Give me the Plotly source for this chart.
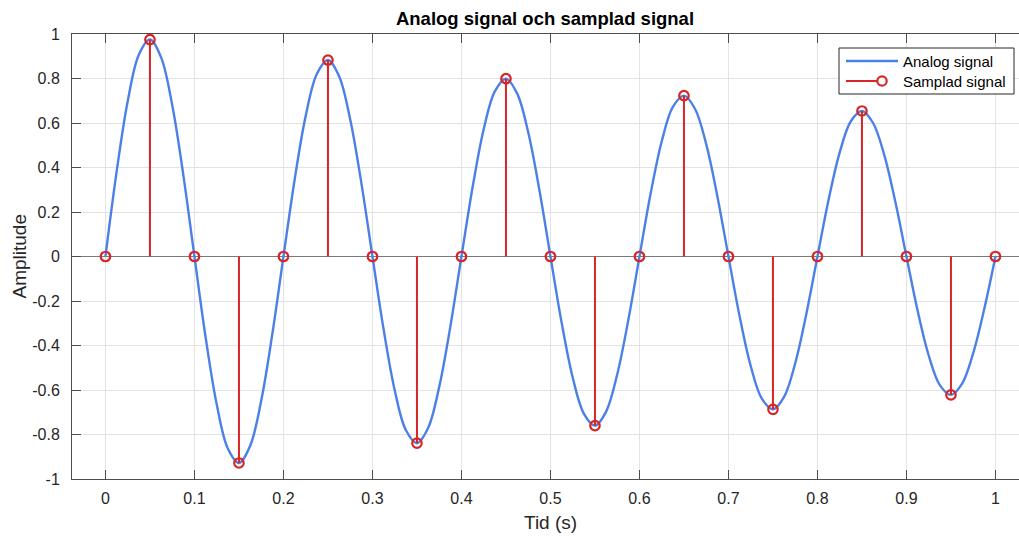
import numpy as np
import plotly.graph_objects as go

# Analog signal, read every 0.0125 s
analog_step = 0.0125
analog_values = [
    0.000, 0.380, 0.698, 0.907, 0.975, 0.895, 0.681, 0.366,
    0.000, -0.362, -0.664, -0.863, -0.928, -0.852, -0.648, -0.348,
    0.000, 0.344, 0.632, 0.820, 0.883, 0.810, 0.616, 0.331,
    0.000, -0.327, -0.601, -0.780, -0.839, -0.771, -0.586, -0.315,
    0.000, 0.311, 0.572, 0.742, 0.799, 0.733, 0.558, 0.300,
    0.000, -0.296, -0.544, -0.706, -0.760, -0.697, -0.530, -0.285,
    0.000, 0.282, 0.517, 0.672, 0.723, 0.663, 0.505, 0.271,
    0.000, -0.268, -0.492, -0.639, -0.687, -0.631, -0.480, -0.258,
    0.000, 0.255, 0.468, 0.608, 0.654, 0.600, 0.457, 0.246,
    0.000, -0.243, -0.445, -0.578, -0.622, -0.571, -0.434, -0.234,
    0.000,
]
analog_t = [round(i * analog_step, 4) for i in range(len(analog_values))]

# Sampled signal, every 0.05 s
sample_t = [round(i * 0.05, 2) for i in range(21)]
sample_values = [
    0.000, 0.975, 0.000, -0.928, 0.000, 0.883, 0.000, -0.839, 0.000, 0.799,
    0.000, -0.760, 0.000, 0.723, 0.000, -0.687, 0.000, 0.654, 0.000, -0.622,
    0.000,
]

x_ticks = [round(i * 0.1, 1) for i in range(11)]
x_ticklabels = ["0", "0.1", "0.2", "0.3", "0.4", "0.5", "0.6", "0.7", "0.8", "0.9", "1"]
y_ticks = [round(-1 + i * 0.2, 1) for i in range(11)]
y_ticklabels = ["-1", "-0.8", "-0.6", "-0.4", "-0.2", "0", "0.2", "0.4", "0.6", "0.8", "1"]

BLUE = "#4d80e6"
RED = "#d62626"
AX = "#4d4d4d"
TXT = "#262626"
FONT = "Liberation Sans, Arial, Helvetica, sans-serif"

# stem segments from the baseline to each sample
stem_x, stem_y = [], []
for t, v in zip(sample_t, sample_values):
    stem_x += [t, t, None]
    stem_y += [0, v, None]

fig = go.Figure()
fig.add_trace(go.Scatter(
    x=analog_t, y=analog_values, mode="lines", name="Analog signal",
    line=dict(color=BLUE, width=2.4, shape="spline", smoothing=1.0),
    showlegend=False, hoverinfo="skip",
))
fig.add_trace(go.Scatter(
    x=stem_x, y=stem_y, mode="lines", name="Samplad signal",
    line=dict(color=RED, width=2), showlegend=False, hoverinfo="skip",
))
fig.add_trace(go.Scatter(
    x=sample_t, y=sample_values, mode="markers", name="Samplad signal",
    marker=dict(symbol="circle-open", size=9.5, color=RED, line=dict(color=RED, width=2.2)),
    showlegend=False,
))

# plot area in pixels
L, R, T, B = 72, 0, 34, 57
W, H = 1019, 536
pw, ph = W - L - R, H - T - B


def px(x):
    return (x - L) / pw


def py(y):
    return 1 - (y - T) / ph


shapes = [
    # legend box
    dict(type="rect", xref="paper", yref="paper",
         x0=px(839), x1=px(1014), y0=py(94), y1=py(48),
         line=dict(color="#262626", width=1), fillcolor="white", layer="above"),
    dict(type="line", xref="paper", yref="paper",
         x0=px(846), x1=px(898), y0=py(61), y1=py(61),
         line=dict(color=BLUE, width=2.4), layer="above"),
    dict(type="line", xref="paper", yref="paper",
         x0=px(846), x1=px(882), y0=py(81), y1=py(81),
         line=dict(color=RED, width=2), layer="above"),
    dict(type="circle", xref="paper", yref="paper",
         xsizemode="pixel", ysizemode="pixel",
         xanchor=px(882), yanchor=py(81),
         x0=-4.7, x1=4.7, y0=-4.7, y1=4.7,
         line=dict(color=RED, width=2.2), fillcolor="white", layer="above"),
]
annotations = [
    dict(text="Analog signal", xref="paper", yref="paper", x=px(901), y=py(61),
         xanchor="left", yanchor="middle", showarrow=False,
         font=dict(family=FONT, size=15, color="#000000")),
    dict(text="Samplad signal", xref="paper", yref="paper", x=px(901), y=py(81),
         xanchor="left", yanchor="middle", showarrow=False,
         font=dict(family=FONT, size=15, color="#000000")),
    # axis labels
    dict(text="Tid (s)", xref="paper", yref="paper", x=px(550), y=py(522),
         xanchor="center", yanchor="middle", showarrow=False,
         font=dict(family=FONT, size=19, color=TXT)),
    dict(text="Amplitude", xref="paper", yref="paper", x=px(18.5), y=py(256),
         xanchor="center", yanchor="middle", showarrow=False, textangle=-90,
         font=dict(family=FONT, size=19, color=TXT)),
]

fig.update_layout(
    width=W, height=H,
    margin=dict(l=L, r=R, t=T, b=B, pad=0),
    paper_bgcolor="white", plot_bgcolor="white",
    font=dict(family=FONT, size=16, color=TXT),
    title=dict(text="<b>Analog signal och samplad signal</b>",
               x=545 / W, xanchor="center", y=1 - 19 / H, yanchor="middle",
               font=dict(family=FONT, size=18.5, color="#000000")),
    shapes=shapes, annotations=annotations,
    showlegend=False,
)
fig.update_xaxes(
    range=[-0.0376, -0.0376 + pw / 890.0],
    tickvals=x_ticks, ticktext=x_ticklabels,
    ticks="inside", ticklen=9, tickcolor=AX, tickwidth=1,
    showline=True, linecolor=AX, linewidth=1, mirror="ticks",
    showgrid=True, gridcolor="#e3e3e3", gridwidth=1, zeroline=False,
    tickfont=dict(family=FONT, size=16, color=TXT),
    ticklabelstandoff=5,
)
fig.update_yaxes(
    range=[-1, 1],
    tickvals=y_ticks, ticktext=y_ticklabels,
    ticks="inside", ticklen=9, tickcolor=AX, tickwidth=1,
    showline=True, linecolor=AX, linewidth=1, mirror=False,
    showgrid=True, gridcolor="#e3e3e3", gridwidth=1,
    zeroline=True, zerolinecolor="#7a7a7a", zerolinewidth=1,
    tickfont=dict(family=FONT, size=16, color=TXT),
    ticklabelstandoff=8,
)

fig.write_html("out.html")
